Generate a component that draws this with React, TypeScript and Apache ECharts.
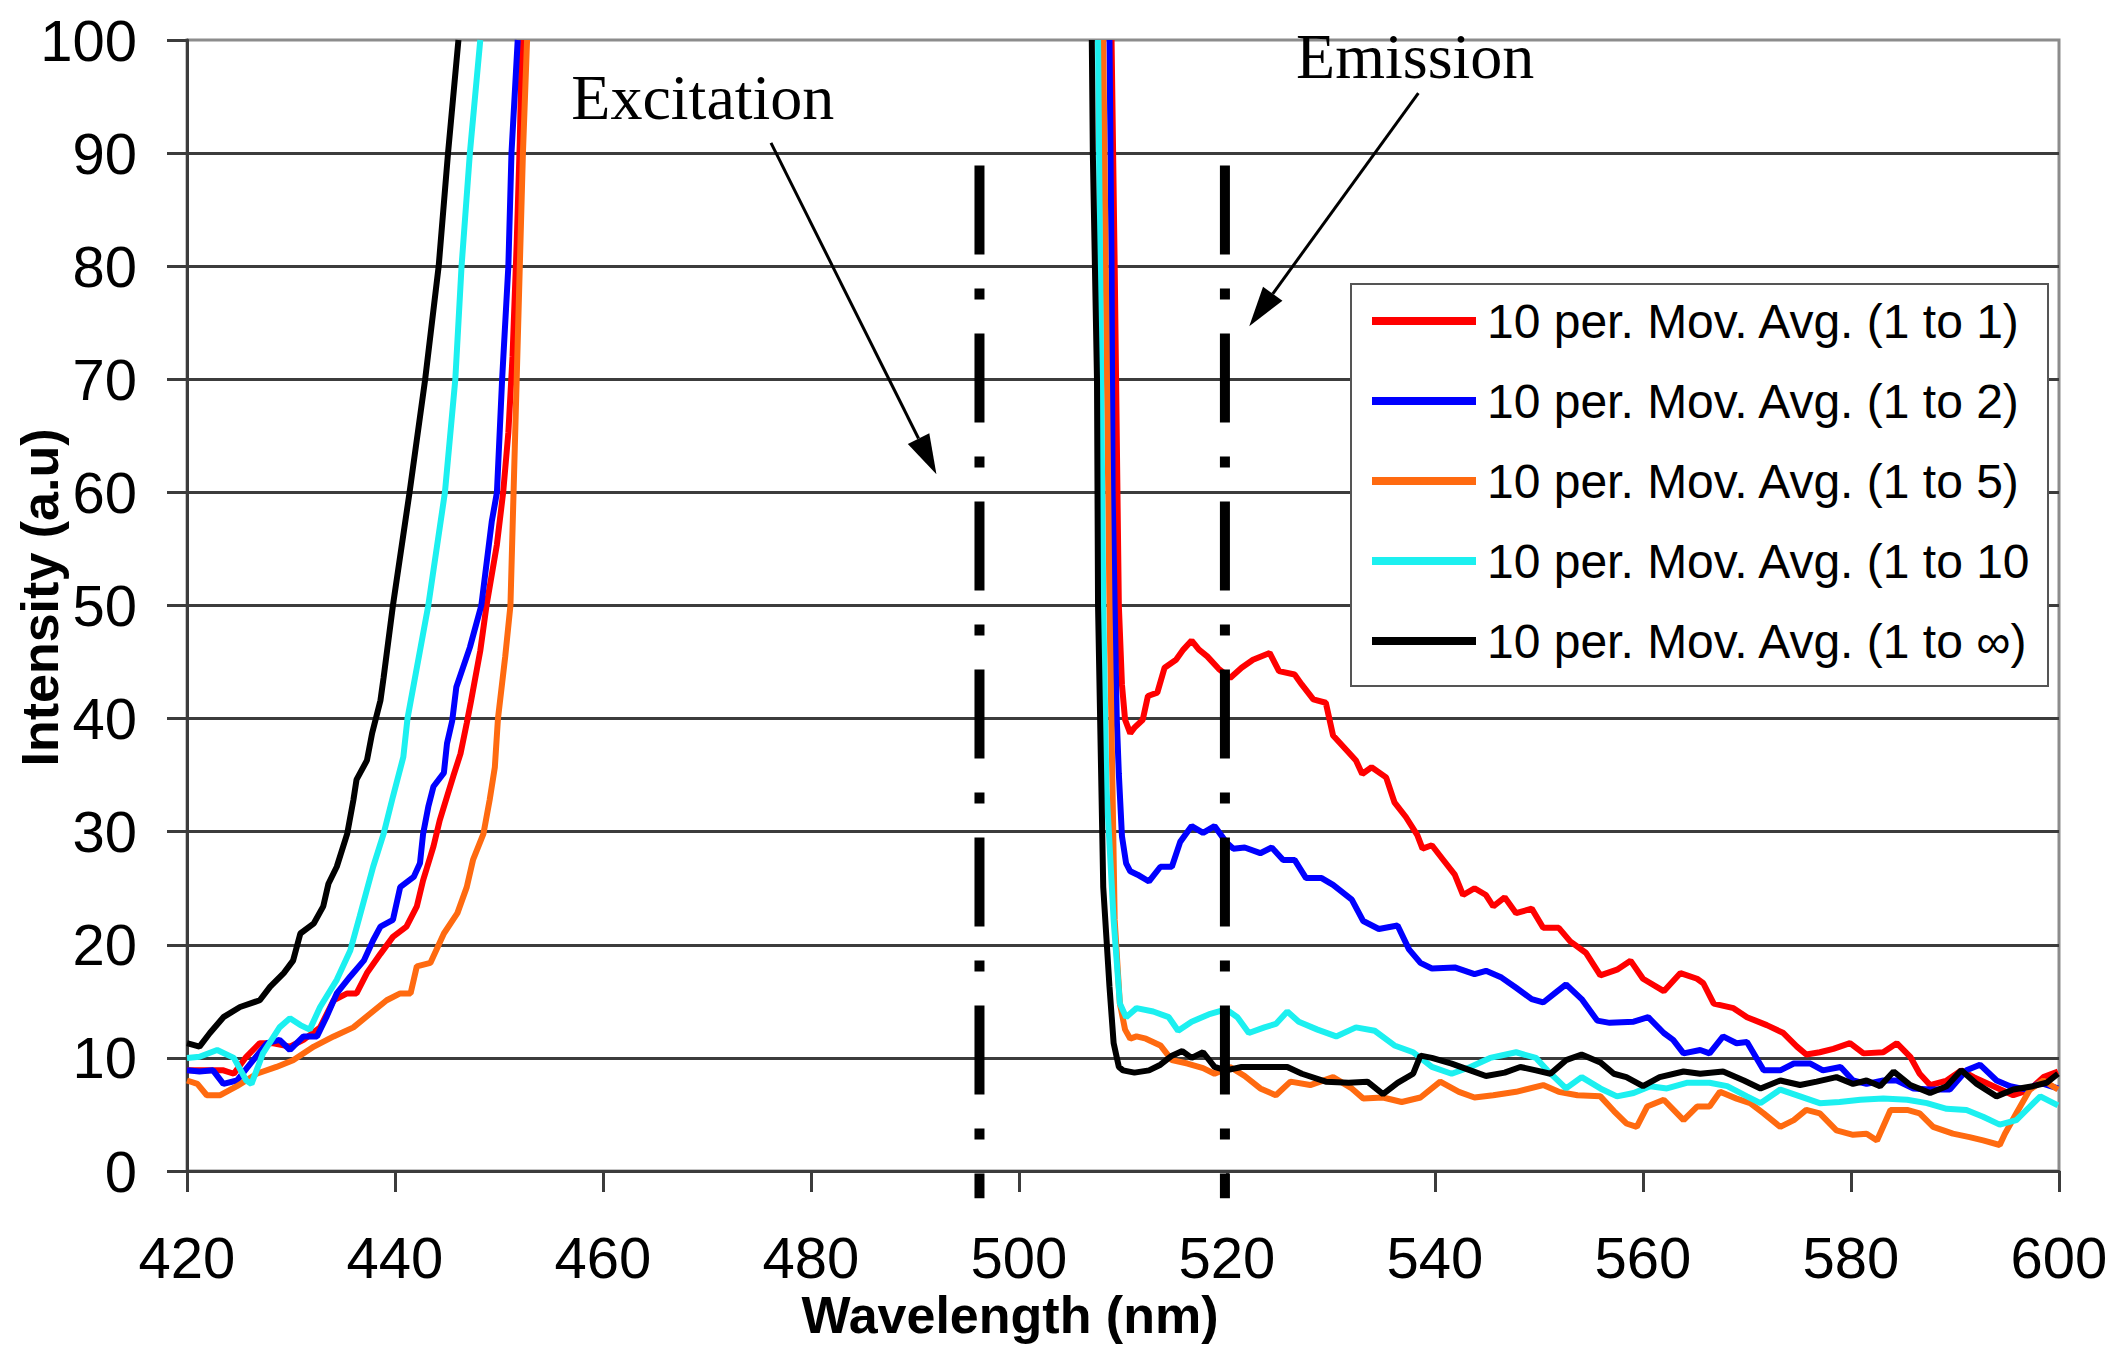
import React, { useEffect, useRef } from "react";
import * as echarts from "echarts";

// Axis ranges
const X_MIN = 420;
const X_MAX = 600;
const X_STEP = 20;
const Y_MIN = 0;
const Y_MAX = 100;
const Y_STEP = 10;
const GAP_X = 480; // break between the excitation and emission sides

const SERIES_NAMES = [
  "10 per. Mov. Avg. (1 to 1)",
  "10 per. Mov. Avg. (1 to 2)",
  "10 per. Mov. Avg. (1 to 5)",
  "10 per. Mov. Avg. (1 to 10)",
  "10 per. Mov. Avg. (1 to \u221e)",
];
const SERIES_COLORS = ["#ff0000", "#0000ff", "#ff6a10", "#1cf0f0", "#000000"];

// [wavelength, intensity]
const RED_LEFT = [
  [420, 8.9], [421.9, 8.9], [423.5, 8.9], [424.5, 8.6], [425.7, 10.1], [427.0, 11.3], [428.3, 11.3],
  [429.9, 11.0], [431.2, 11.6], [432.8, 12.7], [434.1, 15.1], [435.4, 15.7], [436.3, 15.7], [437.3, 17.5],
  [438.6, 19.2], [439.8, 20.7], [441.1, 21.6], [442.1, 23.4], [442.7, 25.7], [443.7, 28.7], [444.3, 31.0],
  [445.0, 33.1], [445.6, 34.9], [446.3, 36.9], [446.9, 39.6], [447.3, 41.5], [448.2, 46.0], [448.8, 50],
  [449.8, 55.4], [450.4, 60], [450.9, 65.3], [451.3, 72], [451.7, 82], [452.0, 91], [452.2, 100],
];
const RED_RIGHT = [
  [508.9, 100], [509.2, 80], [509.4, 65], [509.6, 50], [509.9, 43], [510.2, 39.9], [510.7, 38.7],
  [511.1, 39.2], [511.9, 39.9], [512.4, 42.0], [513.3, 42.3], [514.0, 44.5], [515.1, 45.2], [515.8, 46.1],
  [516.6, 46.9], [517.3, 46.1], [518.1, 45.5], [519.2, 44.4], [520.3, 43.6], [521.4, 44.5], [522.5, 45.2],
  [524.1, 45.8], [525.0, 44.2], [526.5, 43.9], [527.2, 43.0], [528.3, 41.7], [529.5, 41.4], [530.2, 38.5],
  [531.7, 37.0], [532.4, 36.3], [533.0, 35.1], [533.9, 35.7], [535.3, 34.8], [536.1, 32.6], [537.2, 31.3],
  [538.3, 29.7], [538.8, 28.5], [539.7, 28.8], [540.8, 27.5], [541.9, 26.2], [542.7, 24.4], [543.8, 25.0],
  [544.9, 24.4], [545.6, 23.4], [546.7, 24.2], [547.8, 22.8], [549.3, 23.2], [550.4, 21.5], [551.9, 21.5],
  [553.0, 20.3], [554.5, 19.3], [555.9, 17.3], [557.5, 17.8], [558.8, 18.6], [560.0, 17.0], [562.0, 15.9],
  [563.6, 17.5], [565.2, 17.0], [565.8, 16.6], [566.8, 14.8], [568.7, 14.4], [570.0, 13.6], [571.9, 12.9],
  [573.5, 12.2], [574.8, 11.0], [575.7, 10.3], [577.0, 10.5], [578.3, 10.8], [579.9, 11.3], [581.2, 10.4],
  [583.1, 10.5], [584.4, 11.3], [585.7, 10.1], [586.6, 8.6], [587.6, 7.6], [589.2, 8.0], [590.6, 8.9],
  [591.8, 8.3], [593.7, 7.5], [595.6, 6.7], [597.2, 7.2], [598.5, 8.3], [599.9, 8.8],
];

const BLUE_LEFT = [
  [420, 8.9], [421.2, 8.8], [422.5, 8.9], [423.5, 7.7], [424.8, 8.0], [426.1, 9.5], [427.7, 11.3],
  [428.9, 11.6], [429.9, 10.7], [431.2, 11.9], [432.5, 11.9], [433.4, 13.6], [434.4, 15.7], [435.7, 17.2],
  [437.0, 18.6], [437.9, 20.4], [438.6, 21.6], [439.8, 22.2], [440.5, 25.1], [441.8, 26.0], [442.4, 27.2],
  [442.7, 29.8], [443.2, 32.2], [443.7, 34.0], [444.7, 35.2], [445.0, 37.8], [445.5, 39.8], [445.9, 42.8],
  [447.2, 46.3], [448.3, 50], [449.3, 57.4], [449.8, 60], [450.3, 70], [450.9, 80], [451.2, 90], [451.8, 100],
];
const BLUE_RIGHT = [
  [508.7, 100], [508.9, 80], [509.0, 60], [509.4, 40], [509.6, 35.1], [509.9, 29.6], [510.3, 27.2],
  [510.7, 26.5], [511.4, 26.2], [512.5, 25.6], [513.6, 26.9], [514.7, 26.9], [515.5, 29.1], [516.6, 30.5],
  [517.7, 29.9], [518.8, 30.5], [519.9, 29.1], [520.6, 28.5], [521.7, 28.6], [523.2, 28.1], [524.3, 28.6],
  [525.4, 27.5], [526.5, 27.5], [527.6, 25.9], [529.1, 25.9], [530.2, 25.3], [532.0, 24.0], [533.1, 22.1],
  [534.6, 21.4], [536.4, 21.7], [537.5, 19.6], [538.6, 18.4], [539.7, 17.9], [541.9, 18.0], [543.8, 17.4],
  [544.9, 17.7], [546.4, 17.1], [547.8, 16.2], [549.3, 15.2], [550.4, 14.9], [551.5, 15.7], [552.6, 16.5],
  [554.1, 15.2], [555.6, 13.3], [556.8, 13.1], [559.1, 13.2], [560.5, 13.6], [562.0, 12.2], [562.9, 11.6],
  [563.9, 10.4], [565.5, 10.7], [566.4, 10.4], [567.7, 11.9], [569.0, 11.3], [570.0, 11.4], [571.6, 8.9],
  [573.2, 8.9], [574.5, 9.5], [576.1, 9.5], [577.3, 8.9], [579.0, 9.2], [580.2, 8.0], [581.5, 7.7],
  [583.1, 8.0], [584.4, 8.0], [586.0, 7.3], [587.6, 7.2], [589.5, 7.2], [591.1, 8.9], [592.4, 9.4],
  [594.0, 8.0], [595.3, 7.5], [596.9, 7.2], [598.2, 7.8], [599.9, 7.3],
];

const ORANGE_LEFT = [
  [420, 8.0], [421.0, 7.7], [421.9, 6.7], [423.2, 6.7], [424.8, 7.5], [426.7, 8.6], [428.6, 9.2],
  [430.2, 9.8], [432.2, 11.0], [434.1, 11.9], [436.0, 12.7], [437.6, 13.9], [439.2, 15.1], [440.5, 15.7],
  [441.5, 15.7], [442.1, 18.1], [443.4, 18.4], [444.7, 21.0], [446.0, 22.8], [446.9, 25.1], [447.5, 27.5],
  [448.5, 29.8], [449.1, 32.8], [449.6, 35.7], [449.9, 40], [450.6, 45.5], [451.1, 50], [451.4, 60],
  [451.7, 70], [452.0, 80], [452.3, 90], [452.7, 100],
];
const ORANGE_RIGHT = [
  [508.1, 100], [508.4, 75], [508.7, 50], [509.2, 22.2], [509.7, 14.8], [510.2, 12.5], [510.7, 11.7],
  [511.3, 11.9], [512.2, 11.7], [513.6, 11.1], [514.7, 9.8], [516.2, 9.5], [517.7, 9.1], [518.8, 8.6],
  [520.3, 9.2], [521.7, 8.4], [523.2, 7.3], [524.7, 6.7], [526.1, 7.9], [528.0, 7.6], [530.2, 8.3],
  [532.0, 7.3], [533.1, 6.4], [535.0, 6.5], [536.8, 6.1], [538.6, 6.5], [540.5, 7.9], [542.3, 7.0],
  [543.8, 6.5], [545.6, 6.7], [547.8, 7.0], [550.4, 7.6], [551.9, 7.0], [553.7, 6.7], [555.9, 6.6],
  [557.2, 5.3], [558.4, 4.2], [559.4, 3.9], [560.4, 5.7], [562.0, 6.3], [563.9, 4.5], [565.2, 5.7],
  [566.4, 5.7], [567.4, 7.0], [569.0, 6.4], [570.3, 6.0], [571.6, 5.1], [573.2, 3.9], [574.5, 4.5],
  [575.7, 5.4], [577.0, 5.1], [578.6, 3.6], [580.2, 3.2], [581.5, 3.3], [582.5, 2.7], [583.8, 5.4],
  [585.4, 5.4], [586.6, 5.1], [587.9, 3.9], [589.8, 3.3], [591.4, 3.0], [592.7, 2.7], [594.3, 2.3],
  [594.8, 3.3], [595.9, 5.1], [597.2, 7.2], [598.5, 8.0], [599.9, 7.2],
];

const CYAN_LEFT = [
  [420, 10.0], [421.2, 10.1], [422.9, 10.7], [424.5, 10.0], [425.7, 8.0], [426.2, 7.7], [427.3, 10.4],
  [428.9, 12.7], [429.9, 13.5], [430.9, 12.9], [431.8, 12.5], [432.8, 14.5], [434.4, 16.9], [435.7, 19.5],
  [436.6, 22.5], [437.9, 26.9], [438.9, 29.8], [439.8, 33.1], [440.8, 36.6], [441.2, 40], [443.2, 50],
  [444.8, 60], [445.8, 70], [446.4, 80], [447.2, 90], [448.2, 100],
];
const CYAN_RIGHT = [
  [507.6, 100], [507.8, 80], [508.1, 50], [508.4, 34], [509.1, 22.2], [509.7, 14.8], [510.3, 13.6],
  [511.3, 14.4], [512.9, 14.1], [514.4, 13.6], [515.3, 12.4], [516.6, 13.2], [518.4, 13.9], [519.9, 14.3],
  [521.0, 13.6], [522.1, 12.2], [523.6, 12.7], [524.7, 13.0], [525.8, 14.1], [526.9, 13.2], [528.7, 12.5],
  [530.5, 11.9], [532.4, 12.7], [534.2, 12.4], [536.1, 11.1], [537.9, 10.5], [539.7, 9.2], [541.6, 8.6],
  [543.4, 9.2], [545.3, 10.0], [547.8, 10.5], [549.7, 10.0], [550.8, 8.9], [552.6, 7.3], [554.1, 8.3],
  [555.9, 7.3], [557.5, 6.6], [559.1, 6.9], [560.7, 7.5], [562.3, 7.3], [564.2, 7.8], [566.4, 7.8],
  [568.1, 7.5], [570.0, 6.6], [571.3, 6.0], [573.2, 7.2], [575.1, 6.6], [577.0, 6.0], [578.9, 6.1],
  [580.9, 6.3], [583.1, 6.4], [585.4, 6.3], [587.3, 6.0], [589.2, 5.5], [591.1, 5.4], [592.7, 4.8],
  [594.3, 4.1], [595.9, 4.5], [597.2, 5.7], [598.2, 6.6], [599.9, 5.8],
];

const BLACK_LEFT = [
  [420, 11.3], [421.2, 11.0], [422.2, 12.2], [423.5, 13.6], [425.1, 14.5], [427.0, 15.1], [428.0, 16.3],
  [429.3, 17.5], [430.2, 18.6], [430.9, 21.0], [432.2, 21.9], [433.1, 23.4], [433.6, 25.4], [434.4, 26.9],
  [435.4, 29.8], [436.0, 32.8], [436.3, 34.6], [437.3, 36.3], [437.8, 38.7], [438.6, 41.6], [438.9, 43.6],
  [439.8, 50], [441.4, 60], [442.9, 70], [444.2, 80], [445.1, 90], [446.1, 100],
];
const BLACK_RIGHT = [
  [507.0, 100], [507.1, 90], [507.5, 70], [507.6, 50], [508.1, 25.1], [508.7, 16.3], [509.1, 11.3],
  [509.6, 9.2], [510.0, 8.9], [511.1, 8.7], [512.5, 8.9], [513.6, 9.4], [514.7, 10.2], [515.7, 10.6],
  [516.6, 10.0], [517.7, 10.5], [518.8, 9.2], [519.9, 8.9], [521.4, 9.2], [523.2, 9.2], [525.8, 9.2],
  [527.2, 8.6], [529.5, 7.9], [531.7, 7.8], [533.5, 7.9], [535.0, 6.8], [536.4, 7.8], [537.9, 8.6],
  [538.6, 10.2], [539.7, 10.0], [541.6, 9.5], [543.4, 8.9], [544.9, 8.4], [546.7, 8.7], [548.2, 9.2],
  [549.7, 8.9], [551.1, 8.6], [552.6, 9.8], [554.1, 10.3], [555.9, 9.6], [557.2, 8.6], [558.4, 8.3],
  [560.0, 7.5], [561.6, 8.3], [563.9, 8.8], [565.5, 8.6], [567.7, 8.8], [569.7, 8.0], [571.3, 7.3],
  [573.2, 8.0], [575.1, 7.6], [576.7, 7.9], [578.6, 8.3], [580.2, 7.7], [581.5, 8.0], [582.8, 7.5],
  [584.1, 8.8], [585.7, 7.6], [587.6, 6.9], [589.2, 7.5], [590.6, 8.9], [592.1, 7.7], [594.0, 6.6],
  [595.6, 7.2], [597.5, 7.5], [598.8, 7.8], [599.9, 8.6],
];

const SERIES_LEFT = [RED_LEFT, BLUE_LEFT, ORANGE_LEFT, CYAN_LEFT, BLACK_LEFT];
const SERIES_RIGHT = [RED_RIGHT, BLUE_RIGHT, ORANGE_RIGHT, CYAN_RIGHT, BLACK_RIGHT];

// dash-dot markers: [wavelength, top intensity, bottom intensity]
const MARKER_LINES = [
  [496.2, 88.9, -2.4],
  [519.8, 88.9, -2.4],
];
// arrows: [x from, y from, x tip, y tip]
const ARROWS = [
  [476.15, 90.9, 492.06, 61.6],
  [538.4, 95.3, 522.14, 74.7],
];
const NOTE_TEXTS = ["Excitation", "Emission"];
const NOTE_POS = [
  [469.6, 94.9],
  [538.1, 98.5],
];

const SANS = "'Liberation Sans', Arial, Helvetica, sans-serif";
const SERIF = "'Liberation Serif', 'Times New Roman', serif";
const GRID_DARK = "#3c3c3c";

export default function App() {
  const ref = useRef<HTMLDivElement | null>(null);

  useEffect(() => {
    if (!ref.current) return;
    const chart = echarts.init(ref.current, null, { renderer: "svg" });

    const lineSeries = SERIES_NAMES.map((name, i) => ({
      name,
      type: "line",
      data: [...SERIES_LEFT[i], [GAP_X, null], ...SERIES_RIGHT[i]],
      symbol: "none",
      showSymbol: false,
      connectNulls: false,
      clip: true,
      lineStyle: { color: SERIES_COLORS[i], width: 6 },
      itemStyle: { color: SERIES_COLORS[i] },
    }));

    const option: any = {
      animation: false,
      backgroundColor: "#ffffff",
      grid: {
        left: 187,
        right: 61,
        top: 40,
        bottom: 189,
        containLabel: false,
        outerBoundsMode: "none",
        show: true,
        borderColor: "#8c8c8c",
        borderWidth: 3,
      },
      legend: {
        data: SERIES_NAMES,
        orient: "vertical",
        left: 1351,
        top: 284,
        backgroundColor: "#ffffff",
        borderColor: "#555555",
        borderWidth: 2,
        padding: [12, 4, 20, 17],
        itemWidth: 104,
        itemHeight: 10,
        itemGap: 30,
        lineStyle: { width: 8 },
        textStyle: {
          fontFamily: SANS,
          fontSize: 48,
          color: "#000",
          lineHeight: 50,
          width: 557,
          overflow: "truncate",
          ellipsis: "",
          padding: [0, 0, 0, 6],
        },
      },
      xAxis: {
        type: "value",
        min: X_MIN,
        max: X_MAX,
        interval: X_STEP,
        name: "Wavelength (nm)",
        nameLocation: "middle",
        nameGap: 121,
        nameMoveOverlap: false,
        nameTextStyle: {
          fontFamily: SANS,
          fontSize: 52,
          fontWeight: "bold",
          color: "#000",
          lineHeight: 46,
          padding: [0, 226, 0, 0],
        },
        axisLine: { show: true, onZero: false, lineStyle: { color: GRID_DARK, width: 3 } },
        axisTick: { show: true, inside: false, length: 21, lineStyle: { color: GRID_DARK, width: 3 } },
        axisLabel: { fontFamily: SANS, fontSize: 58, lineHeight: 50, color: "#000", margin: 61 },
        splitLine: { show: false },
      },
      yAxis: {
        type: "value",
        min: Y_MIN,
        max: Y_MAX,
        interval: Y_STEP,
        name: "Intensity (a.u)",
        nameLocation: "middle",
        nameGap: 121,
        nameMoveOverlap: false,
        nameTextStyle: {
          fontFamily: SANS,
          fontSize: 52,
          fontWeight: "bold",
          color: "#000",
          padding: [0, 0, 0, 16],
        },
        axisLine: { show: true, onZero: false, lineStyle: { color: GRID_DARK, width: 3 } },
        axisTick: { show: true, inside: false, length: 20, lineStyle: { color: GRID_DARK, width: 3 } },
        axisLabel: { fontFamily: SANS, fontSize: 58, color: "#000", margin: 50 },
        splitLine: {
          show: true,
          showMinLine: false,
          showMaxLine: false,
          lineStyle: { color: GRID_DARK, width: 3 },
        },
      },
      series: [
        ...lineSeries,
        {
          type: "custom",
          name: "markers",
          clip: false,
          silent: true,
          z: 5,
          data: MARKER_LINES,
          encode: { x: 0, y: 1 },
          renderItem: (_p: any, api: any) => {
            const a = api.coord([api.value(0), api.value(1)]);
            const b = api.coord([api.value(0), api.value(2)]);
            return {
              type: "line",
              shape: { x1: a[0], y1: a[1], x2: b[0], y2: b[1] },
              style: { stroke: "#000", lineWidth: 10, lineDash: [89, 34, 11, 34], lineCap: "butt" },
            };
          },
        },
        {
          type: "custom",
          name: "arrows",
          clip: false,
          silent: true,
          z: 5,
          data: ARROWS,
          encode: { x: 0, y: 1 },
          renderItem: (_p: any, api: any) => {
            const a = api.coord([api.value(0), api.value(1)]);
            const b = api.coord([api.value(2), api.value(3)]);
            const dx = b[0] - a[0];
            const dy = b[1] - a[1];
            const len = Math.hypot(dx, dy) || 1;
            const ux = dx / len;
            const uy = dy / len;
            const head = 40;
            const half = 12;
            const bx = b[0] - ux * head;
            const by = b[1] - uy * head;
            return {
              type: "group",
              children: [
                {
                  type: "line",
                  shape: { x1: a[0], y1: a[1], x2: bx, y2: by },
                  style: { stroke: "#000", lineWidth: 3 },
                },
                {
                  type: "polygon",
                  shape: {
                    points: [
                      [b[0], b[1]],
                      [bx - uy * half, by + ux * half],
                      [bx + uy * half, by - ux * half],
                    ],
                  },
                  style: { fill: "#000" },
                },
              ],
            };
          },
        },
        {
          type: "custom",
          name: "notes",
          clip: false,
          silent: true,
          z: 6,
          data: NOTE_POS,
          encode: { x: 0, y: 1 },
          renderItem: (p: any, api: any) => {
            const c = api.coord([api.value(0), api.value(1)]);
            return {
              type: "text",
              x: c[0],
              y: c[1],
              style: {
                text: NOTE_TEXTS[p.dataIndex],
                fontFamily: SERIF,
                fontSize: 64,
                fill: "#000",
                align: "center",
                verticalAlign: "middle",
              },
            };
          },
        },
      ],
    };

    chart.setOption(option);
    return () => {
      chart.dispose();
    };
  }, []);

  return (
    <div
      ref={ref}
      style={{ position: "fixed", left: 0, top: 0, width: 2120, height: 1360, background: "#fff" }}
    />
  );
}
